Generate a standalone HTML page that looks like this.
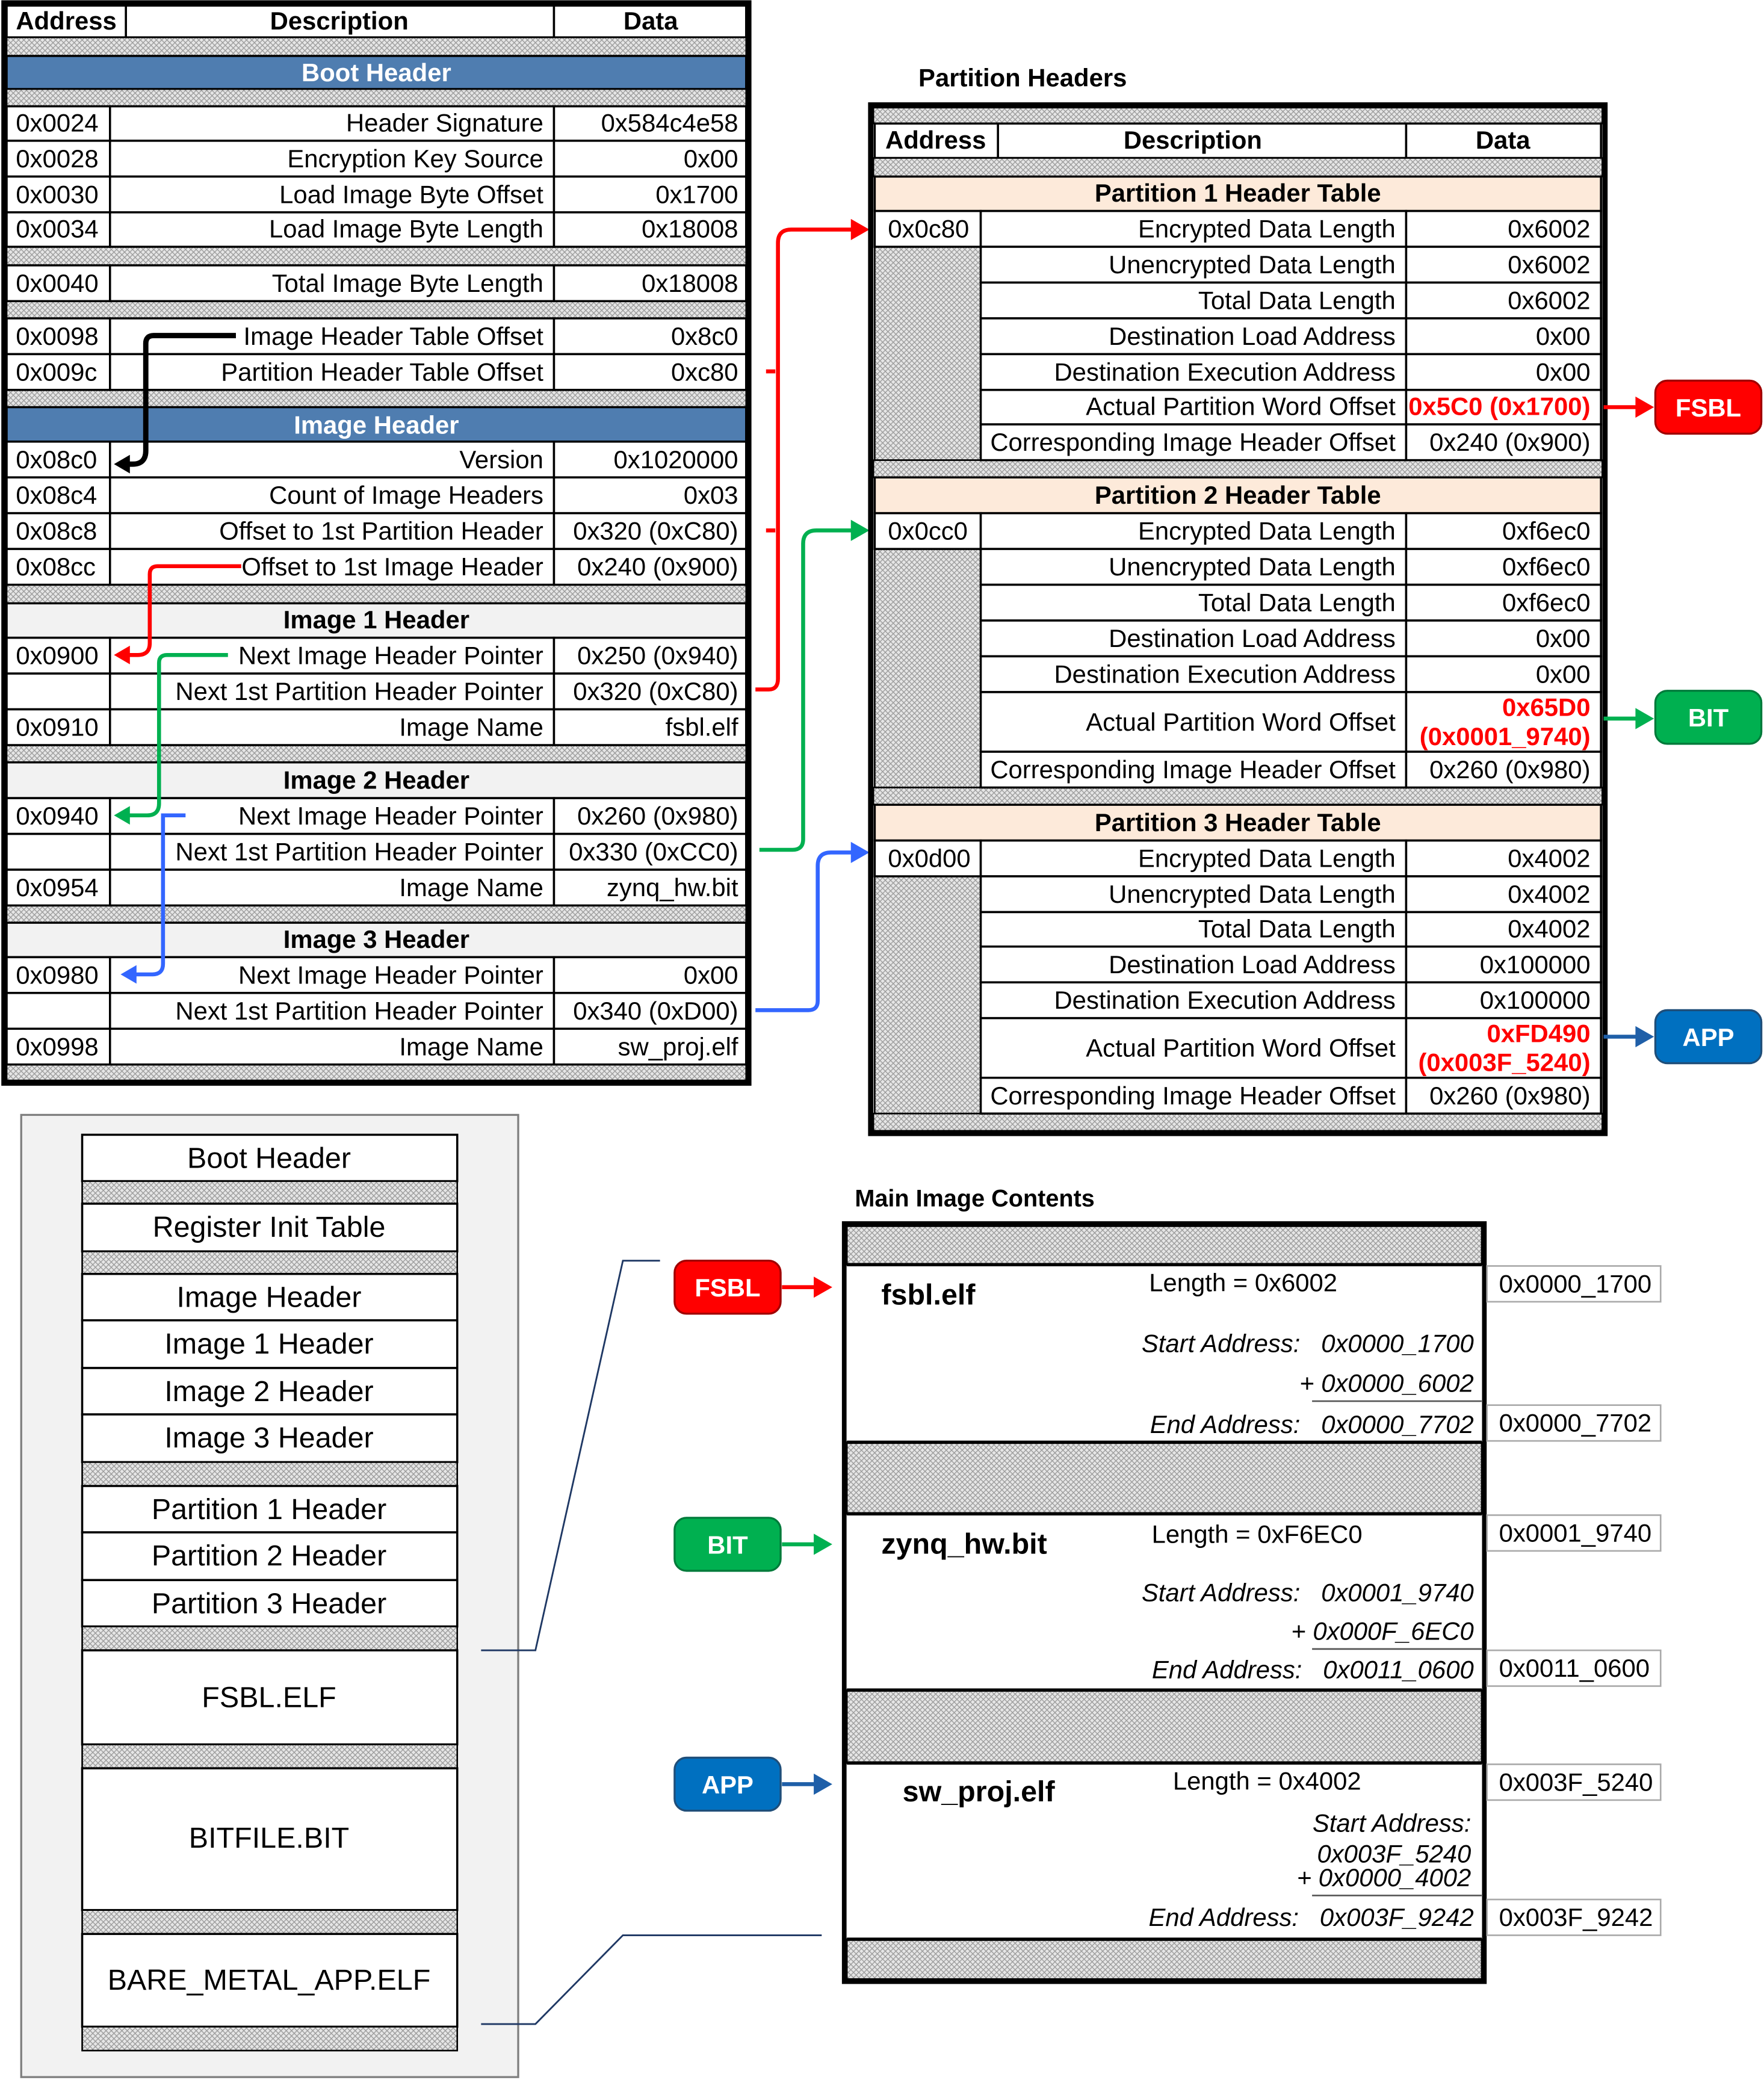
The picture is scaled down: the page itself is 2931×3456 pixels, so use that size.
<!DOCTYPE html>
<html><head><meta charset="utf-8"><style>
html,body{margin:0;padding:0;background:#fff}
svg{display:block}
text{font-family:"Liberation Sans Narrow","Liberation Sans",sans-serif;font-size:19px;fill:#000}
.b{font-weight:bold}
.r{text-anchor:end}
.m{text-anchor:middle}
.w{fill:#fff}
.red{fill:#ff0000;font-weight:bold}
.i{font-style:italic}
.c{fill:#fff;stroke:#000;stroke-width:1.6}
.h{fill:url(#hp);stroke:#000;stroke-width:1.2}
</style></head><body>
<svg width="2931" height="3456" viewBox="0 0 1331 1569" xmlns="http://www.w3.org/2000/svg">
<defs>
<pattern id="hp" width="4" height="4" patternUnits="userSpaceOnUse">
<rect width="4" height="4" fill="#e6e6e6"/>
<path d="M0 0L4 4M4 0L0 4" stroke="#9a9a9a" stroke-width="0.6"/>
</pattern>
<marker id="ak" markerWidth="8" markerHeight="8" refX="6" refY="4" orient="auto" markerUnits="userSpaceOnUse" viewBox="0 0 8 8"><path d="M0 0L8 4L0 8z" fill="#000"/></marker>
</defs>

<!-- ===== TOP LEFT TABLE ===== -->
<rect x="3" y="2" width="562" height="815" fill="#fff" stroke="#000" stroke-width="4"/>
<rect class="c" x="5" y="4" width="90" height="24"/><rect class="c" x="95" y="4" width="323" height="24"/><rect class="c" x="418" y="4" width="145" height="24"/>
<text class="b" x="12" y="22">Address</text><text class="b m" x="256" y="22">Description</text><text class="b m" x="491" y="22">Data</text>
<rect class="h" x="5" y="28" width="558" height="14"/>
<rect x="5" y="42" width="558" height="25" fill="#4f7db0" stroke="#000" stroke-width="1.6"/>
<text class="b m w" x="284" y="61">Boot Header</text>
<rect class="h" x="5" y="67" width="558" height="13"/>
<rect class="h" x="5" y="186" width="558" height="14"/>
<rect class="h" x="5" y="227" width="558" height="13"/>
<rect class="h" x="5" y="294" width="558" height="13"/>
<rect x="5" y="307" width="558" height="26" fill="#4f7db0" stroke="#000" stroke-width="1.6"/>
<text class="b m w" x="284" y="327">Image Header</text>
<rect class="h" x="5" y="441" width="558" height="14"/>
<rect x="5" y="455" width="558" height="26" fill="#f2f2f2" stroke="#000" stroke-width="1.6"/>
<text class="b m" x="284" y="474">Image 1 Header</text>
<rect class="h" x="5" y="562" width="558" height="13"/>
<rect x="5" y="575" width="558" height="27" fill="#f2f2f2" stroke="#000" stroke-width="1.6"/>
<text class="b m" x="284" y="595">Image 2 Header</text>
<rect class="h" x="5" y="683" width="558" height="13"/>
<rect x="5" y="696" width="558" height="26" fill="#f2f2f2" stroke="#000" stroke-width="1.6"/>
<text class="b m" x="284" y="715">Image 3 Header</text>
<rect class="h" x="5" y="803" width="558" height="12"/>

<g>
<!-- rows -->
<rect class="c" x="5" y="80" width="78" height="26"/><rect class="c" x="83" y="80" width="335" height="26"/><rect class="c" x="418" y="80" width="145" height="26"/>
<text x="12" y="99">0x0024</text><text class="r" x="410" y="99">Header Signature</text><text class="r" x="557" y="99">0x584c4e58</text>
<rect class="c" x="5" y="106" width="78" height="27"/><rect class="c" x="83" y="106" width="335" height="27"/><rect class="c" x="418" y="106" width="145" height="27"/>
<text x="12" y="126">0x0028</text><text class="r" x="410" y="126">Encryption Key Source</text><text class="r" x="557" y="126">0x00</text>
<rect class="c" x="5" y="133" width="78" height="27"/><rect class="c" x="83" y="133" width="335" height="27"/><rect class="c" x="418" y="133" width="145" height="27"/>
<text x="12" y="153">0x0030</text><text class="r" x="410" y="153">Load Image Byte Offset</text><text class="r" x="557" y="153">0x1700</text>
<rect class="c" x="5" y="160" width="78" height="26"/><rect class="c" x="83" y="160" width="335" height="26"/><rect class="c" x="418" y="160" width="145" height="26"/>
<text x="12" y="179">0x0034</text><text class="r" x="410" y="179">Load Image Byte Length</text><text class="r" x="557" y="179">0x18008</text>
<rect class="c" x="5" y="200" width="78" height="27"/><rect class="c" x="83" y="200" width="335" height="27"/><rect class="c" x="418" y="200" width="145" height="27"/>
<text x="12" y="220">0x0040</text><text class="r" x="410" y="220">Total Image Byte Length</text><text class="r" x="557" y="220">0x18008</text>
<rect class="c" x="5" y="240" width="78" height="27"/><rect class="c" x="83" y="240" width="335" height="27"/><rect class="c" x="418" y="240" width="145" height="27"/>
<text x="12" y="260">0x0098</text><text class="r" x="410" y="260">Image Header Table Offset</text><text class="r" x="557" y="260">0x8c0</text>
<rect class="c" x="5" y="267" width="78" height="27"/><rect class="c" x="83" y="267" width="335" height="27"/><rect class="c" x="418" y="267" width="145" height="27"/>
<text x="12" y="287">0x009c</text><text class="r" x="410" y="287">Partition Header Table Offset</text><text class="r" x="557" y="287">0xc80</text>
<rect class="c" x="5" y="333" width="78" height="27"/><rect class="c" x="83" y="333" width="335" height="27"/><rect class="c" x="418" y="333" width="145" height="27"/>
<text x="12" y="353">0x08c0</text><text class="r" x="410" y="353">Version</text><text class="r" x="557" y="353">0x1020000</text>
<rect class="c" x="5" y="360" width="78" height="27"/><rect class="c" x="83" y="360" width="335" height="27"/><rect class="c" x="418" y="360" width="145" height="27"/>
<text x="12" y="380">0x08c4</text><text class="r" x="410" y="380">Count of Image Headers</text><text class="r" x="557" y="380">0x03</text>
<rect class="c" x="5" y="387" width="78" height="27"/><rect class="c" x="83" y="387" width="335" height="27"/><rect class="c" x="418" y="387" width="145" height="27"/>
<text x="12" y="407">0x08c8</text><text class="r" x="410" y="407">Offset to 1st Partition Header</text><text class="r" x="557" y="407">0x320 (0xC80)</text>
<rect class="c" x="5" y="414" width="78" height="27"/><rect class="c" x="83" y="414" width="335" height="27"/><rect class="c" x="418" y="414" width="145" height="27"/>
<text x="12" y="434">0x08cc</text><text class="r" x="410" y="434">Offset to 1st Image Header</text><text class="r" x="557" y="434">0x240 (0x900)</text>
<rect class="c" x="5" y="481" width="78" height="27"/><rect class="c" x="83" y="481" width="335" height="27"/><rect class="c" x="418" y="481" width="145" height="27"/>
<text x="12" y="501">0x0900</text><text class="r" x="410" y="501">Next Image Header Pointer</text><text class="r" x="557" y="501">0x250 (0x940)</text>
<rect class="c" x="5" y="508" width="78" height="27"/><rect class="c" x="83" y="508" width="335" height="27"/><rect class="c" x="418" y="508" width="145" height="27"/>
<text class="r" x="410" y="528">Next 1st Partition Header Pointer</text><text class="r" x="557" y="528">0x320 (0xC80)</text>
<rect class="c" x="5" y="535" width="78" height="27"/><rect class="c" x="83" y="535" width="335" height="27"/><rect class="c" x="418" y="535" width="145" height="27"/>
<text x="12" y="555">0x0910</text><text class="r" x="410" y="555">Image Name</text><text class="r" x="557" y="555">fsbl.elf</text>
<rect class="c" x="5" y="602" width="78" height="27"/><rect class="c" x="83" y="602" width="335" height="27"/><rect class="c" x="418" y="602" width="145" height="27"/>
<text x="12" y="622">0x0940</text><text class="r" x="410" y="622">Next Image Header Pointer</text><text class="r" x="557" y="622">0x260 (0x980)</text>
<rect class="c" x="5" y="629" width="78" height="27"/><rect class="c" x="83" y="629" width="335" height="27"/><rect class="c" x="418" y="629" width="145" height="27"/>
<text class="r" x="410" y="649">Next 1st Partition Header Pointer</text><text class="r" x="557" y="649">0x330 (0xCC0)</text>
<rect class="c" x="5" y="656" width="78" height="27"/><rect class="c" x="83" y="656" width="335" height="27"/><rect class="c" x="418" y="656" width="145" height="27"/>
<text x="12" y="676">0x0954</text><text class="r" x="410" y="676">Image Name</text><text class="r" x="557" y="676">zynq_hw.bit</text>
<rect class="c" x="5" y="722" width="78" height="27"/><rect class="c" x="83" y="722" width="335" height="27"/><rect class="c" x="418" y="722" width="145" height="27"/>
<text x="12" y="742">0x0980</text><text class="r" x="410" y="742">Next Image Header Pointer</text><text class="r" x="557" y="742">0x00</text>
<rect class="c" x="5" y="749" width="78" height="27"/><rect class="c" x="83" y="749" width="335" height="27"/><rect class="c" x="418" y="749" width="145" height="27"/>
<text class="r" x="410" y="769">Next 1st Partition Header Pointer</text><text class="r" x="557" y="769">0x340 (0xD00)</text>
<rect class="c" x="5" y="776" width="78" height="27"/><rect class="c" x="83" y="776" width="335" height="27"/><rect class="c" x="418" y="776" width="145" height="27"/>
<text x="12" y="796">0x0998</text><text class="r" x="410" y="796">Image Name</text><text class="r" x="557" y="796">sw_proj.elf</text>
</g>

<!-- internal arrows -->
<path d="M178 253H116Q110 253 110 259V340Q110 350 100 350H90" fill="none" stroke="#000" stroke-width="4"/>
<path d="M86 350L98 343V357z" fill="#000"/>
<path d="M182 427H119Q113 427 113 433V485Q113 494 104 494H92" fill="none" stroke="#ff0000" stroke-width="3"/>
<path d="M86 494L98 487V501z" fill="#ff0000"/>
<path d="M172 494H126Q120 494 120 500V606Q120 615 111 615H92" fill="none" stroke="#00b050" stroke-width="3"/>
<path d="M86 615L98 608V622z" fill="#00b050"/>
<path d="M140 615H123V727Q123 735 115 735H97" fill="none" stroke="#3366ff" stroke-width="3"/>
<path d="M91 735L103 728V742z" fill="#3366ff"/>
<!-- to partition headers -->
<path d="M578 280H585M578 400H585M570 520H580Q587 520 587 512V183Q587 173 597 173H645" fill="none" stroke="#ff0000" stroke-width="3"/>
<path d="M656 173L642 165V181z" fill="#ff0000"/>
<path d="M573 641H598Q606 641 606 633V410Q606 400 616 400H645" fill="none" stroke="#00b050" stroke-width="3"/>
<path d="M656 400L642 392V408z" fill="#00b050"/>
<path d="M570 762H610Q617 762 617 755V653Q617 643 627 643H645" fill="none" stroke="#3366ff" stroke-width="3"/>
<path d="M656 643L642 635V651z" fill="#3366ff"/>

<!-- ===== PARTITION HEADERS ===== -->
<text class="b" x="693" y="65">Partition Headers</text>
<rect x="657" y="79" width="554" height="776" fill="#fff" stroke="#000" stroke-width="4"/>
<rect class="h" x="659" y="81" width="550" height="12"/>
<rect class="c" x="660" y="93" width="93" height="26"/><rect class="c" x="753" y="93" width="308" height="26"/><rect class="c" x="1061" y="93" width="147" height="26"/>
<text class="b m" x="706" y="112">Address</text><text class="b m" x="900" y="112">Description</text><text class="b m" x="1134" y="112">Data</text>
<rect class="h" x="659" y="119" width="550" height="14"/>
<rect x="660" y="133" width="548" height="26" fill="#fdeada" stroke="#000" stroke-width="1.6"/>
<text class="b m" x="934" y="152">Partition 1 Header Table</text>
<rect class="h" x="660" y="186" width="80" height="161"/>
<rect class="h" x="659" y="347" width="550" height="13"/>
<rect x="660" y="360" width="548" height="27" fill="#fdeada" stroke="#000" stroke-width="1.6"/>
<text class="b m" x="934" y="380">Partition 2 Header Table</text>
<rect class="h" x="660" y="414" width="80" height="180"/>
<rect class="h" x="659" y="594" width="550" height="13"/>
<rect x="660" y="607" width="548" height="27" fill="#fdeada" stroke="#000" stroke-width="1.6"/>
<rect class="h" x="660" y="661" width="80" height="179"/>
<text class="b m" x="934" y="627">Partition 3 Header Table</text>
<rect class="h" x="659" y="840" width="550" height="13"/>

<g>
<rect class="c" x="660" y="159" width="80" height="27"/>
<text x="670" y="179">0x0c80</text>
<rect class="c" x="740" y="159" width="321" height="27"/><rect class="c" x="1061" y="159" width="147" height="27"/>
<text class="r" x="1053" y="179">Encrypted Data Length</text><text class="r" x="1200" y="179">0x6002</text>
<rect class="c" x="740" y="186" width="321" height="27"/><rect class="c" x="1061" y="186" width="147" height="27"/>
<text class="r" x="1053" y="206">Unencrypted Data Length</text><text class="r" x="1200" y="206">0x6002</text>
<rect class="c" x="740" y="213" width="321" height="27"/><rect class="c" x="1061" y="213" width="147" height="27"/>
<text class="r" x="1053" y="233">Total Data Length</text><text class="r" x="1200" y="233">0x6002</text>
<rect class="c" x="740" y="240" width="321" height="27"/><rect class="c" x="1061" y="240" width="147" height="27"/>
<text class="r" x="1053" y="260">Destination Load Address</text><text class="r" x="1200" y="260">0x00</text>
<rect class="c" x="740" y="267" width="321" height="27"/><rect class="c" x="1061" y="267" width="147" height="27"/>
<text class="r" x="1053" y="287">Destination Execution Address</text><text class="r" x="1200" y="287">0x00</text>
<rect class="c" x="740" y="294" width="321" height="26"/><rect class="c" x="1061" y="294" width="147" height="26"/>
<text class="r" x="1053" y="313">Actual Partition Word Offset</text><text class="r red" x="1200" y="313">0x5C0 (0x1700)</text>
<rect class="c" x="740" y="320" width="321" height="27"/><rect class="c" x="1061" y="320" width="147" height="27"/>
<text class="r" x="1053" y="340">Corresponding Image Header Offset</text><text class="r" x="1200" y="340">0x240 (0x900)</text>

<rect class="c" x="660" y="387" width="80" height="27"/>
<text x="670" y="407">0x0cc0</text>
<rect class="c" x="740" y="387" width="321" height="27"/><rect class="c" x="1061" y="387" width="147" height="27"/>
<text class="r" x="1053" y="407">Encrypted Data Length</text><text class="r" x="1200" y="407">0xf6ec0</text>
<rect class="c" x="740" y="414" width="321" height="27"/><rect class="c" x="1061" y="414" width="147" height="27"/>
<text class="r" x="1053" y="434">Unencrypted Data Length</text><text class="r" x="1200" y="434">0xf6ec0</text>
<rect class="c" x="740" y="441" width="321" height="27"/><rect class="c" x="1061" y="441" width="147" height="27"/>
<text class="r" x="1053" y="461">Total Data Length</text><text class="r" x="1200" y="461">0xf6ec0</text>
<rect class="c" x="740" y="468" width="321" height="27"/><rect class="c" x="1061" y="468" width="147" height="27"/>
<text class="r" x="1053" y="488">Destination Load Address</text><text class="r" x="1200" y="488">0x00</text>
<rect class="c" x="740" y="495" width="321" height="27"/><rect class="c" x="1061" y="495" width="147" height="27"/>
<text class="r" x="1053" y="515">Destination Execution Address</text><text class="r" x="1200" y="515">0x00</text>
<rect class="c" x="740" y="522" width="321" height="45"/><rect class="c" x="1061" y="522" width="147" height="45"/>
<text class="r" x="1053" y="551">Actual Partition Word Offset</text><text class="r red" x="1200" y="540">0x65D0</text><text class="r red" x="1200" y="562">(0x0001_9740)</text>
<rect class="c" x="740" y="567" width="321" height="27"/><rect class="c" x="1061" y="567" width="147" height="27"/>
<text class="r" x="1053" y="587">Corresponding Image Header Offset</text><text class="r" x="1200" y="587">0x260 (0x980)</text>

<rect class="c" x="660" y="634" width="80" height="27"/>
<text x="670" y="654">0x0d00</text>
<rect class="c" x="740" y="634" width="321" height="27"/><rect class="c" x="1061" y="634" width="147" height="27"/>
<text class="r" x="1053" y="654">Encrypted Data Length</text><text class="r" x="1200" y="654">0x4002</text>
<rect class="c" x="740" y="661" width="321" height="27"/><rect class="c" x="1061" y="661" width="147" height="27"/>
<text class="r" x="1053" y="681">Unencrypted Data Length</text><text class="r" x="1200" y="681">0x4002</text>
<rect class="c" x="740" y="688" width="321" height="26"/><rect class="c" x="1061" y="688" width="147" height="26"/>
<text class="r" x="1053" y="707">Total Data Length</text><text class="r" x="1200" y="707">0x4002</text>
<rect class="c" x="740" y="714" width="321" height="27"/><rect class="c" x="1061" y="714" width="147" height="27"/>
<text class="r" x="1053" y="734">Destination Load Address</text><text class="r" x="1200" y="734">0x100000</text>
<rect class="c" x="740" y="741" width="321" height="27"/><rect class="c" x="1061" y="741" width="147" height="27"/>
<text class="r" x="1053" y="761">Destination Execution Address</text><text class="r" x="1200" y="761">0x100000</text>
<rect class="c" x="740" y="768" width="321" height="45"/><rect class="c" x="1061" y="768" width="147" height="45"/>
<text class="r" x="1053" y="797">Actual Partition Word Offset</text><text class="r red" x="1200" y="786">0xFD490</text><text class="r red" x="1200" y="808">(0x003F_5240)</text>
<rect class="c" x="740" y="813" width="321" height="27"/><rect class="c" x="1061" y="813" width="147" height="27"/>
<text class="r" x="1053" y="833">Corresponding Image Header Offset</text><text class="r" x="1200" y="833">0x260 (0x980)</text>
</g>

<!-- right badges -->
<path d="M1210 307H1236" stroke="#ff0000" stroke-width="3"/><path d="M1248 307L1234 299V315z" fill="#ff0000"/>
<rect x="1249" y="287" width="80" height="40" rx="9" fill="#ff0000" stroke="#a00000" stroke-width="1.5"/>
<text class="b m w" x="1289" y="314">FSBL</text>
<path d="M1210 542H1236" stroke="#00b050" stroke-width="3"/><path d="M1248 542L1234 534V550z" fill="#00b050"/>
<rect x="1249" y="521" width="80" height="40" rx="9" fill="#00b050" stroke="#007a3a" stroke-width="1.5"/>
<text class="b m w" x="1289" y="548">BIT</text>
<path d="M1210 782H1236" stroke="#1f5fa8" stroke-width="3"/><path d="M1248 782L1234 774V790z" fill="#1f5fa8"/>
<rect x="1249" y="762" width="80" height="40" rx="9" fill="#0070c0" stroke="#1f4e79" stroke-width="1.5"/>
<text class="b m w" x="1289" y="789">APP</text>

<!-- ===== BOTTOM LEFT ===== -->
<rect x="16" y="841" width="375" height="726" fill="#f2f2f2" stroke="#7f7f7f" stroke-width="1.5"/>
<g>
<rect class="c" x="62" y="856" width="283" height="35"/><text class="m" x="203" y="881" style="font-size:22px">Boot Header</text>
<rect class="h" x="62" y="891" width="283" height="17"/>
<rect class="c" x="62" y="908" width="283" height="36"/><text class="m" x="203" y="933" style="font-size:22px">Register Init Table</text>
<rect class="h" x="62" y="944" width="283" height="17"/>
<rect class="c" x="62" y="961" width="283" height="35"/><text class="m" x="203" y="986" style="font-size:22px">Image Header</text>
<rect class="c" x="62" y="996" width="283" height="36"/><text class="m" x="203" y="1021" style="font-size:22px">Image 1 Header</text>
<rect class="c" x="62" y="1032" width="283" height="35"/><text class="m" x="203" y="1057" style="font-size:22px">Image 2 Header</text>
<rect class="c" x="62" y="1067" width="283" height="36"/><text class="m" x="203" y="1092" style="font-size:22px">Image 3 Header</text>
<rect class="h" x="62" y="1103" width="283" height="18"/>
<rect class="c" x="62" y="1121" width="283" height="35"/><text class="m" x="203" y="1146" style="font-size:22px">Partition 1 Header</text>
<rect class="c" x="62" y="1156" width="283" height="36"/><text class="m" x="203" y="1181" style="font-size:22px">Partition 2 Header</text>
<rect class="c" x="62" y="1192" width="283" height="35"/><text class="m" x="203" y="1217" style="font-size:22px">Partition 3 Header</text>
<rect class="h" x="62" y="1227" width="283" height="18"/>
<rect class="c" x="62" y="1245" width="283" height="71"/><text class="m" x="203" y="1288" style="font-size:22px">FSBL.ELF</text>
<rect class="h" x="62" y="1316" width="283" height="18"/>
<rect class="c" x="62" y="1334" width="283" height="107"/><text class="m" x="203" y="1394" style="font-size:22px">BITFILE.BIT</text>
<rect class="h" x="62" y="1441" width="283" height="18"/>
<rect class="c" x="62" y="1459" width="283" height="70"/><text class="m" x="203" y="1501" style="font-size:22px">BARE_METAL_APP.ELF</text>
<rect class="h" x="62" y="1529" width="283" height="18"/>
</g>
<path d="M363 1245H404L470 951H498M363 1527H404L470 1460H620" fill="none" stroke="#1f3864" stroke-width="1.3"/>

<!-- ===== MAIN IMAGE CONTENTS ===== -->
<text class="b" x="645" y="910" style="font-size:18px">Main Image Contents</text>
<rect x="637" y="923" width="483" height="572" fill="#fff" stroke="#000" stroke-width="3.5"/>
<rect class="h" x="639" y="925" width="479" height="29"/>
<rect class="h" x="639" y="1088" width="479" height="54"/>
<rect class="h" x="639" y="1275" width="479" height="55"/>
<rect class="h" x="639" y="1463" width="479" height="30"/>
<path d="M639 954H1118M639 1088H1118M639 1142H1118M639 1275H1118M639 1330H1118M639 1463H1118" stroke="#000" stroke-width="2.5"/>

<text class="b" x="665" y="984" style="font-size:22px">fsbl.elf</text>
<text x="867" y="974">Length = 0x6002</text>
<text class="i r" x="1112" y="1020">Start Address:&#160;&#160;&#160;0x0000_1700</text>
<text class="i r" x="1112" y="1050">+ 0x0000_6002</text>
<path d="M990 1057H1118" stroke="#555" stroke-width="1.2"/>
<text class="i r" x="1112" y="1081">End Address:&#160;&#160;&#160;0x0000_7702</text>

<text class="b" x="665" y="1172" style="font-size:22px">zynq_hw.bit</text>
<text x="869" y="1164">Length = 0xF6EC0</text>
<text class="i r" x="1112" y="1208">Start Address:&#160;&#160;&#160;0x0001_9740</text>
<text class="i r" x="1112" y="1237">+ 0x000F_6EC0</text>
<path d="M990 1244H1118" stroke="#555" stroke-width="1.2"/>
<text class="i r" x="1112" y="1266">End Address:&#160;&#160;&#160;0x0011_0600</text>

<text class="b" x="681" y="1359" style="font-size:22px">sw_proj.elf</text>
<text x="885" y="1350">Length = 0x4002</text>
<text class="i r" x="1110" y="1382">Start Address:</text>
<text class="i r" x="1110" y="1405">0x003F_5240</text>
<text class="i r" x="1110" y="1423">+ 0x0000_4002</text>
<path d="M990 1430H1118" stroke="#555" stroke-width="1.2"/>
<text class="i r" x="1112" y="1453">End Address:&#160;&#160;&#160;0x003F_9242</text>

<g>
<rect x="1122" y="955" width="131" height="27" fill="#fff" stroke="#aaa" stroke-width="1.2"/><text x="1131" y="975">0x0000_1700</text>
<rect x="1122" y="1060" width="131" height="27" fill="#fff" stroke="#aaa" stroke-width="1.2"/><text x="1131" y="1080">0x0000_7702</text>
<rect x="1122" y="1143" width="131" height="27" fill="#fff" stroke="#aaa" stroke-width="1.2"/><text x="1131" y="1163">0x0001_9740</text>
<rect x="1122" y="1245" width="131" height="27" fill="#fff" stroke="#aaa" stroke-width="1.2"/><text x="1131" y="1265">0x0011_0600</text>
<rect x="1122" y="1331" width="131" height="27" fill="#fff" stroke="#aaa" stroke-width="1.2"/><text x="1131" y="1351">0x003F_5240</text>
<rect x="1122" y="1433" width="131" height="27" fill="#fff" stroke="#aaa" stroke-width="1.2"/><text x="1131" y="1453">0x003F_9242</text>
</g>

<!-- left badges -->
<rect x="509" y="951" width="80" height="40" rx="9" fill="#ff0000" stroke="#a00000" stroke-width="1.5"/>
<text class="b m w" x="549" y="978">FSBL</text>
<path d="M590 971H616" stroke="#ff0000" stroke-width="3"/><path d="M628 971L614 963V979z" fill="#ff0000"/>
<rect x="509" y="1145" width="80" height="40" rx="9" fill="#00b050" stroke="#007a3a" stroke-width="1.5"/>
<text class="b m w" x="549" y="1172">BIT</text>
<path d="M590 1165H616" stroke="#00b050" stroke-width="3"/><path d="M628 1165L614 1157V1173z" fill="#00b050"/>
<rect x="509" y="1326" width="80" height="40" rx="9" fill="#0070c0" stroke="#1f4e79" stroke-width="1.5"/>
<text class="b m w" x="549" y="1353">APP</text>
<path d="M590 1346H616" stroke="#1f5fa8" stroke-width="3"/><path d="M628 1346L614 1338V1354z" fill="#1f5fa8"/>
</svg>
</body></html>
